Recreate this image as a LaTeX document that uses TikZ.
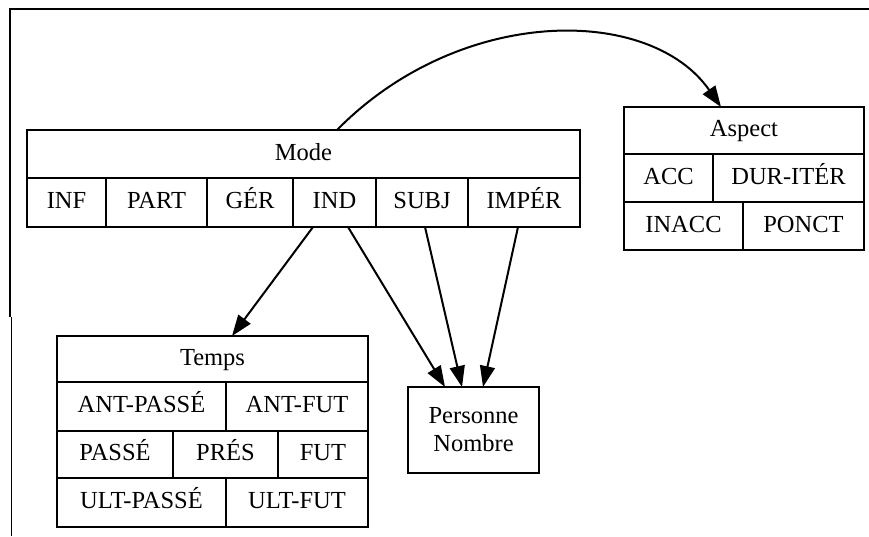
\documentclass[tikz,border=0pt]{standalone}
\usepackage{fontspec}
\setmainfont{Liberation Serif}
\usetikzlibrary{arrows.meta}
\tikzset{
  boxline/.style={draw, line width=2.2pt, inner sep=0pt, outer sep=0pt, align=center,
    font=\fontsize{24.5}{28}\selectfont},
  cell/.style={boxline, text height=16.5pt, text depth=4.5pt},
  arr/.style={line width=2pt, -{Triangle[length=21pt,width=15pt]}},
  frame/.style={line width=2pt},
}
% \cellbox[style]{name}{x1}{y1}{x2}{y2}{text}: a framed cell spanning the given corners
\newcommand\cellbox[7][cell]{%
  \node[#1, minimum width={(#5-#3)*1pt}, minimum height={(#6-#4)*1pt}]
    (#2) at ({(#3+#5)/2},{(#4+#6)/2}) {#7};}
\begin{document}
\begin{tikzpicture}[x=1pt,y=-1pt]
\useasboundingbox (0,0) rectangle (869,536);
% partial page frame
\draw[frame] (869,9) -- (10,9) -- (10,317);
\draw[line width=1pt] (11.5,317) -- (11.5,536);

% Mode
\cellbox{mode}{27}{130}{580}{178}{Mode}
\cellbox{inf}{27}{178}{106}{227}{INF}
\cellbox{part}{106}{178}{207}{227}{PART}
\cellbox{ger}{207}{178}{293}{227}{GÉR}
\cellbox{ind}{293}{178}{376}{227}{IND}
\cellbox{subj}{376}{178}{468}{227}{SUBJ}
\cellbox{imper}{468}{178}{580}{227}{IMPÉR}

% Aspect
\cellbox{aspect}{624}{107}{864}{154}{Aspect}
\cellbox{acc}{624}{154}{713}{202}{ACC}
\cellbox{durit}{713}{154}{864}{202}{DUR-ITÉR}
\cellbox{inacc}{624}{202}{743}{250}{INACC}
\cellbox{ponct}{743}{202}{864}{250}{PONCT}

% Temps
\cellbox{temps}{57}{336}{368}{382}{Temps}
\cellbox{antpasse}{57}{382}{226}{431}{ANT-PASSÉ}
\cellbox{antfut}{226}{382}{368}{431}{ANT-FUT}
\cellbox{passe}{57}{431}{173}{478}{PASSÉ}
\cellbox{pres}{173}{431}{278}{478}{PRÉS}
\cellbox{fut}{278}{431}{368}{478}{FUT}
\cellbox{ultpasse}{57}{478}{226}{527}{ULT-PASSÉ}
\cellbox{ultfut}{226}{478}{368}{527}{ULT-FUT}

% Personne / Nombre
\cellbox[boxline]{pers}{408}{387}{539}{473}{Personne\\Nombre}

% connectors
\draw[arr] ([xshift=33.5pt]mode.north) .. controls (460,5) and (650,5) .. ([xshift=-23pt]aspect.north);
\draw[arr] ([xshift=-21.5pt]ind.south) -- ([xshift=19.5pt]temps.north);
\draw[arr] ([xshift=13.5pt]ind.south) -- ([xshift=-28.5pt]pers.north);
\draw[arr] ([xshift=3pt]subj.south) -- ([xshift=-11.5pt]pers.north);
\draw[arr] ([xshift=-6pt]imper.south) -- ([xshift=9.5pt]pers.north);
\end{tikzpicture}
\end{document}
